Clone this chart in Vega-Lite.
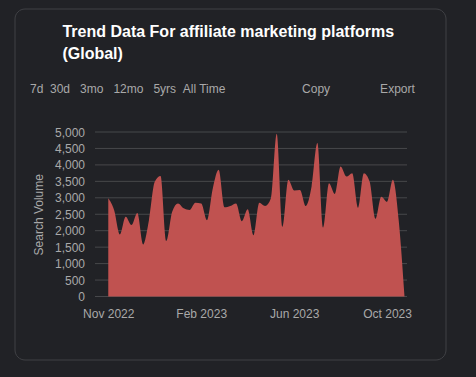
{"$schema":"https://vega.github.io/schema/vega-lite/v6.json","width":431,"height":351,"autosize":"none","padding":{"left":14.5,"top":8.5,"right":30,"bottom":17},"background":"#212226","title":{"text":["\u200b\u00a0\u00a0\u00a0\u00a0\u00a0\u00a0\u00a0\u200aTrend Data For affiliate marketing platforms","\u200b\u00a0\u00a0\u00a0\u00a0\u00a0\u00a0\u00a0\u200a(Global)"],"subtitle":"7d\u00a0\u00a030d\u00a0\u00a0\u00a03mo\u00a0\u00a0\u00a012mo\u00a0\u00a0\u00a05yrs\u00a0\u00a0All Time\u00a0\u00a0\u00a0\u00a0\u00a0\u00a0\u00a0\u00a0\u00a0\u00a0\u00a0\u00a0\u00a0\u00a0\u00a0\u00a0\u00a0\u00a0\u00a0\u00a0\u00a0\u00a0\u00a0Copy\u00a0\u00a0\u00a0\u00a0\u00a0\u00a0\u00a0\u00a0\u00a0\u00a0\u00a0\u00a0\u00a0\u00a0\u00a0Export","anchor":"start","frame":"group","orient":"top","dx":15.5,"offset":-86,"font":"Liberation Sans","fontSize":16,"fontWeight":"bold","color":"#ffffff","lineHeight":22,"subtitleFont":"Liberation Sans","subtitleFontSize":12,"subtitleColor":"#a9a9a9","subtitlePadding":22},"config":{"view":{"stroke":"#404145","strokeWidth":1,"cornerRadius":10,"fill":"#212226"},"font":"Liberation Sans"},"layer":[{"data":{"values":[{"v":0},{"v":500},{"v":1000},{"v":1500},{"v":2000},{"v":2500},{"v":3000},{"v":3500},{"v":4000},{"v":4500},{"v":5000}]},"mark":{"type":"rule","color":"#47484b","strokeWidth":1},"encoding":{"y":{"field":"v","type":"quantitative","scale":{"domain":[0,5000],"range":[288,123.5]},"axis":{"values":[0,500,1000,1500,2000,2500,3000,3500,4000,4500,5000],"labelExpr":"format(datum.value, ',')","labelOverlap":false,"orient":"left","offset":-70,"grid":false,"domain":false,"ticks":false,"labelPadding":0,"labelFontSize":12,"labelColor":"#a9a9a9","labelFont":"Liberation Sans","title":"Search Volume","titleFontSize":12,"titleFontWeight":"normal","titleColor":"#a9a9a9","titleFont":"Liberation Sans","titlePadding":9}},"x":{"datum":{"year":2022,"month":10,"date":21,"utc":true},"type":"temporal","scale":{"type":"utc","domain":[{"year":2022,"month":10,"date":21,"utc":true},{"year":2023,"month":11,"date":1,"utc":true}],"range":[80.5,392.5]},"axis":{"values":[{"year":2022,"month":11,"date":6,"utc":true},{"year":2023,"month":2,"date":26,"utc":true},{"year":2023,"month":6,"date":18,"utc":true},{"year":2023,"month":10,"date":8,"utc":true}],"format":"%b %Y","orient":"bottom","offset":-63,"grid":false,"domain":false,"ticks":false,"labelPadding":12,"labelFontSize":12,"labelColor":"#a9a9a9","labelFont":"Liberation Sans","labelFlush":false,"labelOverlap":false,"title":null}},"x2":{"datum":{"year":2023,"month":11,"date":1,"utc":true}}}},{"data":{"values":[{"week":"2022-11-06","volume":2985},{"week":"2022-11-13","volume":2630},{"week":"2022-11-20","volume":1885},{"week":"2022-11-27","volume":2425},{"week":"2022-12-04","volume":2170},{"week":"2022-12-11","volume":2535},{"week":"2022-12-18","volume":1580},{"week":"2022-12-25","volume":2320},{"week":"2023-01-01","volume":3490},{"week":"2023-01-08","volume":3665},{"week":"2023-01-15","volume":1690},{"week":"2023-01-22","volume":2575},{"week":"2023-01-29","volume":2830},{"week":"2023-02-05","volume":2680},{"week":"2023-02-12","volume":2630},{"week":"2023-02-19","volume":2850},{"week":"2023-02-26","volume":2830},{"week":"2023-03-05","volume":2320},{"week":"2023-03-12","volume":3290},{"week":"2023-03-19","volume":3850},{"week":"2023-03-26","volume":2710},{"week":"2023-04-02","volume":2750},{"week":"2023-04-09","volume":2830},{"week":"2023-04-16","volume":2290},{"week":"2023-04-23","volume":2650},{"week":"2023-04-30","volume":1860},{"week":"2023-05-07","volume":2850},{"week":"2023-05-14","volume":2750},{"week":"2023-05-21","volume":2985},{"week":"2023-05-28","volume":4950},{"week":"2023-06-04","volume":2120},{"week":"2023-06-11","volume":3545},{"week":"2023-06-18","volume":3220},{"week":"2023-06-25","volume":3240},{"week":"2023-07-02","volume":2750},{"week":"2023-07-09","volume":3340},{"week":"2023-07-16","volume":4665},{"week":"2023-07-23","volume":2100},{"week":"2023-07-30","volume":3440},{"week":"2023-08-06","volume":3115},{"week":"2023-08-13","volume":3950},{"week":"2023-08-20","volume":3645},{"week":"2023-08-27","volume":3750},{"week":"2023-09-03","volume":2700},{"week":"2023-09-10","volume":3750},{"week":"2023-09-17","volume":3490},{"week":"2023-09-24","volume":2360},{"week":"2023-10-01","volume":3035},{"week":"2023-10-08","volume":2880},{"week":"2023-10-15","volume":3545},{"week":"2023-10-22","volume":2320},{"week":"2023-10-29","volume":0}]},"mark":{"type":"area","color":"#c05250","interpolate":"monotone"},"encoding":{"x":{"field":"week","type":"temporal","axis":{"values":[{"year":2022,"month":11,"date":6,"utc":true},{"year":2023,"month":2,"date":26,"utc":true},{"year":2023,"month":6,"date":18,"utc":true},{"year":2023,"month":10,"date":8,"utc":true}],"format":"%b %Y","orient":"bottom","offset":-63,"grid":false,"domain":false,"ticks":false,"labelPadding":12,"labelFontSize":12,"labelColor":"#a9a9a9","labelFont":"Liberation Sans","labelFlush":false,"labelOverlap":false,"title":null}},"y":{"field":"volume","type":"quantitative","axis":{"values":[0,500,1000,1500,2000,2500,3000,3500,4000,4500,5000],"labelExpr":"format(datum.value, ',')","labelOverlap":false,"orient":"left","offset":-70,"grid":false,"domain":false,"ticks":false,"labelPadding":0,"labelFontSize":12,"labelColor":"#a9a9a9","labelFont":"Liberation Sans","title":"Search Volume","titleFontSize":12,"titleFontWeight":"normal","titleColor":"#a9a9a9","titleFont":"Liberation Sans","titlePadding":9}}}}]}
